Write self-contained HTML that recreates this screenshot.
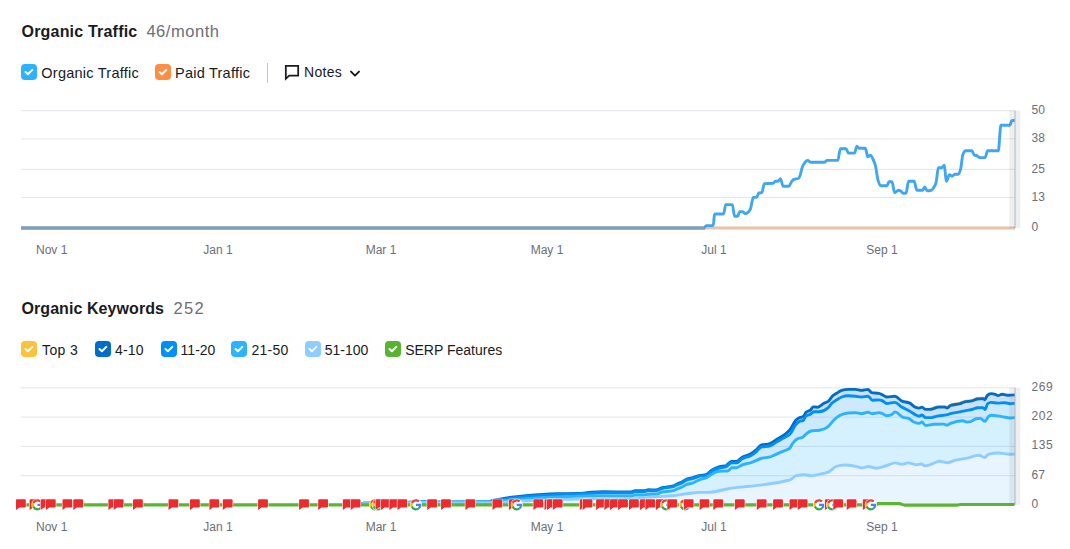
<!DOCTYPE html>
<html><head><meta charset="utf-8"><title>Organic Traffic</title>
<style>
html,body{margin:0;padding:0;background:#fff;}
body{width:1070px;height:549px;position:relative;overflow:hidden;font-family:"Liberation Sans",sans-serif;color:#191b23;}
.t{position:absolute;white-space:nowrap;line-height:1;}
.h{font-size:16px;font-weight:bold;}
.hv{font-size:16px;color:#6c6e79;}
.lg{font-size:14px;}
.ax{font-size:12px;color:#6c6e79;}
.xl{font-size:12px;color:#6c6e79;transform:translateX(-50%);}
.cb{position:absolute;width:16px;height:16px;border-radius:4px;}
.cb svg{position:absolute;left:0;top:0;}
</style></head><body>
<svg width="1070" height="549" viewBox="0 0 1070 549" style="position:absolute;left:0;top:0">
<defs>
<symbol id="g" viewBox="-3 -3 54 54"><circle cx="24" cy="24" r="26.4" fill="#fff"/><path fill="#EA4335" d="M24 9.5c3.54 0 6.71 1.22 9.21 3.6l6.85-6.85C35.9 2.38 30.47 0 24 0 14.62 0 6.51 5.38 2.56 13.22l7.98 6.19C12.43 13.72 17.74 9.5 24 9.5z"/><path fill="#4285F4" d="M46.98 24.55c0-1.57-.15-3.09-.38-4.55H24v9.02h12.94c-.58 2.96-2.26 5.48-4.78 7.18l7.73 6c4.51-4.18 7.09-10.36 7.09-17.65z"/><path fill="#FBBC05" d="M10.53 28.59c-.48-1.45-.76-2.99-.76-4.59s.27-3.14.76-4.59l-7.98-6.19C.92 16.46 0 20.12 0 24c0 3.88.92 7.54 2.56 10.78l7.97-6.19z"/><path fill="#34A853" d="M24 48c6.48 0 11.93-2.13 15.89-5.81l-7.73-6c-2.15 1.45-4.92 2.3-8.16 2.3-6.26 0-11.57-4.22-13.47-9.91l-7.98 6.19C6.51 42.62 14.62 48 24 48z"/></symbol>
<path id="f" d="M0,1 Q0,0 1,0 H8.8 Q9.8,0 9.8,1 V7.4 Q9.8,8.4 8.8,8.4 H3.4 L0,10.9 Z" fill="#ed2b2e" stroke="#fff" stroke-width="1.1" stroke-linejoin="round" paint-order="stroke"/>
</defs>
<rect x="21" y="110.15" width="994" height="1.1" fill="#e6e7ee"/>
<rect x="21" y="138.30" width="994" height="1.1" fill="#e6e7ee"/>
<rect x="21" y="168.80" width="994" height="1.1" fill="#e6e7ee"/>
<rect x="21" y="196.95" width="994" height="1.1" fill="#e6e7ee"/>
<path d="M21,228 H1015" stroke="#ecc1ab" stroke-width="3" fill="none"/>
<path d="M21,228 H705" stroke="#7f9fbd" stroke-width="3.4" fill="none"/>
<path d="M704.6,228 C705.1,226.8 705.7,225.6 706.2,225.6 L713.2,225.6 C713.7,225.6 714.1,214 714.6,214 L723.6,214 C724.3,214 725,204.6 725.7,204.6 L732.4,204.6 C733.1,204.6 733.8,216.3 734.5,216.3 L737.7,216.3 C738.4,216.3 739,211.6 739.7,211.6 L742.4,211.6 C743.4,211.6 744.4,213.6 745.4,213.6 C747.1,213.6 748.7,212.1 750.4,209 C751.3,207.3 752.3,197.9 753.2,197.6 C754.4,197.2 755.6,197.4 756.8,197 C757.5,196.8 758.1,193.2 758.8,193 C759.8,192.7 760.9,192.8 761.9,192.5 C762.7,192.2 763.6,183.6 764.4,183.6 C767.2,183.5 770,183.5 772.8,183.4 C773.7,183.4 774.5,181.3 775.4,181.3 L777.9,181.3 C778.8,181.3 779.6,178.8 780.5,178.8 C781.3,178.8 782.2,186.2 783,186.2 L788.9,186.2 C789.9,186.2 790.9,182.3 791.9,181.1 C792.6,180.3 793.3,179.6 794,179.3 C795.4,178.8 796.9,179 798.3,178.5 C798.9,178.3 799.5,177.1 800.1,175.5 C800.8,173.7 801.4,169.8 802.1,167.8 C803.1,164.6 804.2,163.4 805.2,162.2 C806,161.2 806.9,160.4 807.7,160.4 C808.6,160.4 809.4,162.2 810.3,162.2 L824.6,162.2 C825.4,162.2 826.3,160.4 827.1,160.4 L837.8,160.4 C838.7,160.4 839.5,148.7 840.4,148.7 L846,148.7 C846.8,148.7 847.7,153.1 848.5,153.1 L854.5,153.1 C855.3,153.1 856.1,146.2 856.9,146.2 C857.6,146.2 858.2,148.2 858.9,148.2 L865.3,148.2 C866.1,148.2 867,156.9 867.8,156.9 C868.7,156.9 869.5,155.1 870.4,155.1 C871.4,155.1 872.4,157.9 873.4,160.2 C874.1,161.8 874.8,163.1 875.5,166 C876.3,169.4 877.2,177.1 878,180.1 C879,183.8 880.1,185.7 881.1,185.7 L887,185.7 C887.7,185.7 888.3,181.8 889,181.8 L892,181.8 C892.9,181.8 893.7,192.6 894.6,192.6 C895.9,192.6 897.1,190.3 898.4,190.3 C899.1,190.3 899.8,190.5 900.5,190.8 C901.3,191.2 902.2,193.3 903,193.3 L906,193.3 C906.9,193.3 907.7,181.3 908.6,181.3 L914.2,181.3 C915.1,181.3 915.9,190.3 916.8,190.3 L922.6,190.3 C923.3,190.3 924,186.9 924.7,186.9 C925.5,186.9 926.2,190.8 927,190.8 C928.3,190.8 929.7,190.6 931,190.3 C931.9,190.1 932.7,189.1 933.6,187.7 C934.4,186.4 935.3,185.9 936.1,182.4 C936.9,179.1 937.6,167.8 938.4,167.8 L941.7,167.8 C942.6,167.8 943.4,165.3 944.3,165.3 C945,165.3 945.6,181.3 946.3,181.3 C947.3,181.3 948.4,174.7 949.4,174.7 C950.2,174.7 951.1,176.2 951.9,176.2 C952.9,176.2 954,174.2 955,174.2 L958.3,174.2 C959.2,174.2 960,172 960.9,167.8 C961.6,164.5 962.2,155.8 962.9,154.3 C963.9,152 965,150.8 966,150.8 L971.8,150.8 C972.7,150.8 973.5,154.6 974.4,155.1 C975.4,155.6 976.4,155.4 977.4,155.9 C978.1,156.3 978.8,157.6 979.5,157.6 L985.1,157.6 C985.9,157.6 986.8,150.8 987.6,150.8 L998.3,150.8 C999.2,150.8 1000,125.3 1000.9,125.3 L1009.8,125.3 C1010.5,125.3 1011.1,120.9 1011.8,120.7 C1012.7,120.4 1013.7,120.3 1014.6,120.2" stroke="#40a6ef" stroke-width="2.9" fill="none" stroke-linejoin="round" stroke-linecap="butt"/>
<rect x="1009.3" y="110.6" width="11" height="117.6" fill="#62757f" fill-opacity="0.115"/>
<rect x="1014.2" y="110.6" width="1.7" height="117.6" fill="#62757f" fill-opacity="0.26"/>
<rect x="21" y="387.25" width="994" height="1.1" fill="#e6e7ee"/>
<rect x="21" y="416.55" width="994" height="1.1" fill="#e6e7ee"/>
<rect x="21" y="445.85" width="994" height="1.1" fill="#e6e7ee"/>
<rect x="21" y="475.15" width="994" height="1.1" fill="#e6e7ee"/>
<path d="M356,504.8 C357.3,504.8 358.7,504.7 360,504.6 C361.3,504.5 362.7,503.2 364,503.2 C375.3,503.1 386.7,503.1 398,503 C399.3,503 400.7,502.4 402,502.4 C405.3,502.3 408.7,502.4 412,502.3 C413.3,502.3 414.7,501.7 416,501.7 L432,501.7 C434,501.7 436,502.1 438,502.1 C455,502.1 472,502.1 489,502 C490,502 491,501.1 492,500.7 C494.1,499.9 496.3,499.8 498.4,499.4 C502.9,498.5 507.5,497.8 512,497.2 C516.7,496.6 521.3,496.1 526,495.7 C536.3,494.7 546.7,493.9 557,493.7 C563.7,493.6 570.3,493.6 577,493.5 C581.7,493.4 586.3,492.6 591,492.3 C595.1,492 599.3,491.8 603.4,491.8 C612.6,491.8 621.9,492 631.1,492 C632.5,492 633.8,490.8 635.2,490.8 L643.5,490.8 C645.2,490.8 646.9,489.8 648.6,489.8 C651,489.8 653.4,490 655.8,490 C657.9,490 659.9,488.3 662,487.7 C665.8,486.6 669.5,487.1 673.3,485.9 C674.7,485.5 676,484.4 677.4,483.8 C679.1,483 680.8,482.8 682.5,481.8 C683.5,481.2 684.6,480.3 685.6,479.7 C688,478.4 690.4,478.4 692.8,477.7 C695.2,477 697.6,475.9 700,475.4 C701.9,475 703.9,475.2 705.8,474.7 C707.8,474.2 709.7,471.5 711.7,470.3 C714.1,468.8 716.6,467.7 719,466.9 C721.4,466.1 723.8,466.4 726.2,465.5 C727.9,464.8 729.6,461.5 731.3,461.5 L736.4,461.5 C738.4,461.5 740.3,458.4 742.3,457.2 C745.2,455.5 748.1,455.6 751,453.8 C752.7,452.7 754.4,451.3 756.1,449.9 C757.8,448.4 759.5,445.7 761.2,445.1 C764.1,444.1 767.1,444.6 770,443.6 C772.4,442.8 774.9,440.5 777.3,439 C779.7,437.5 782.1,436.4 784.5,434.6 C786.3,433.2 788.2,432 790,429.7 C791.9,427.3 793.9,422.4 795.8,420.3 C797.3,418.7 798.7,418 800.2,417.4 C801.2,417 802.1,417.1 803.1,416.6 C804.1,416.1 805,413.3 806,412.3 C807.5,410.8 808.9,411.4 810.4,410.1 C811.4,409.3 812.3,406.9 813.3,406.9 C814.8,406.9 816.2,407.2 817.7,407.2 C819.6,407.2 821.6,404.6 823.5,403.5 C825.2,402.5 826.9,402.6 828.6,401 C829.8,399.8 831.1,397.4 832.3,396.2 C833.7,394.8 835.2,394.2 836.6,393.3 C838.3,392.2 840,390.9 841.7,390.4 C843.9,389.7 846.1,389.4 848.3,389.4 L855.6,389.4 C857.5,389.4 859.5,390.4 861.4,390.4 C863.6,390.4 865.8,389.4 868,389.4 C869.2,389.4 870.4,392.4 871.6,392.6 C874,393.1 876.5,392.8 878.9,393.3 C879.9,393.5 881,394.1 882,394.6 C883.6,395.3 885.2,397 886.8,397 C889.5,397 892.2,396.3 894.9,396.3 C897.2,396.3 899.4,399.9 901.7,401 C904.4,402.3 907.1,401.7 909.8,403.1 C911.6,404 913.4,406.3 915.2,407.1 C916.6,407.7 917.9,408.1 919.3,408.1 C920.2,408.1 921.1,407.1 922,407.1 C923.1,407.1 924.3,409.4 925.4,409.4 C927.4,409.4 929.5,409.3 931.5,409.2 C933.8,409.1 936,407.1 938.3,407.1 L945,407.1 C945.7,407.1 946.4,408.1 947.1,408.1 C948.2,408.1 949.4,405.9 950.5,405.5 C953.7,404.3 956.8,404.8 960,403.7 C961.3,403.2 962.7,402.5 964,402.1 C966.7,401.2 969.5,401.5 972.2,400.8 C974,400.3 975.8,399.3 977.6,399 C979.4,398.7 981.2,398.6 983,398.6 C983.7,398.6 984.3,399.7 985,399.7 C985.7,399.7 986.4,396.3 987.1,395.6 C988.4,394.3 989.8,393.6 991.1,393.6 C992.5,393.6 993.8,393.8 995.2,394.3 C996.1,394.6 997,395.6 997.9,395.6 C999.3,395.6 1000.6,394.3 1002,394.3 C1004.2,394.3 1006.5,395.3 1008.7,395.3 C1010.7,395.3 1012.6,395.1 1014.6,394.9 L1014.6,403.1 C1013.1,403.4 1011.6,403.7 1010.1,403.7 C1008.3,403.7 1006.5,402.7 1004.7,402.7 C1002.4,402.7 1000.2,403.1 997.9,403.1 C995.6,403.1 993.4,402.4 991.1,402.4 C990,402.4 988.8,402.8 987.7,403.7 C986.8,404.4 985.9,409.5 985,409.5 C984.3,409.5 983.7,407.6 983,407.6 C981.2,407.6 979.4,407.7 977.6,407.8 C975.8,407.9 974,409.1 972.2,409.5 C970.4,409.9 968.5,410.1 966.7,410.4 C964.5,410.8 962.2,411.4 960,411.9 C956.8,412.6 953.7,412.9 950.5,413.7 C949.1,414.1 947.8,414.6 946.4,414.9 C943.7,415.5 941,415.4 938.3,415.9 C936,416.3 933.8,417.6 931.5,417.6 L925.4,417.6 C924.3,417.6 923.1,414.9 922,414.9 C921.1,414.9 920.2,416.2 919.3,416.2 C917.9,416.2 916.6,415.3 915.2,414.6 C913.4,413.7 911.6,412.2 909.8,411.2 C907.1,409.6 904.4,408.7 901.7,407.1 C899.4,405.7 897.2,402.4 894.9,402.4 C892.2,402.4 889.5,403.5 886.8,403.5 C885.2,403.5 883.6,401.2 882,400.6 C881,400.2 879.9,399.9 878.9,399.9 C876.7,399.9 874.6,400.2 872.4,400.2 C870.9,400.2 869.5,396.2 868,396.2 C865.8,396.2 863.6,397 861.4,397 C859.5,397 857.5,396.4 855.6,396.2 C853.2,396 850.7,395.8 848.3,395.8 C846.1,395.8 843.9,396.2 841.7,397 C840,397.6 838.3,398.8 836.6,399.9 C835.2,400.8 833.7,401.5 832.3,402.8 C830.8,404.1 829.4,406.6 827.9,407.9 C825,410.5 822.1,411.8 819.2,411.8 L814,411.8 C812.8,411.8 811.6,413.6 810.4,414.2 C808.9,415 807.5,414.8 806,415.9 C805,416.6 804.1,420.3 803.1,420.6 C802.1,420.9 801.2,420.7 800.2,421 C798.7,421.4 797.3,422.9 795.8,424.6 C793.9,426.9 791.9,432 790,434.1 C788.2,436.1 786.3,436.3 784.5,437.4 C782.1,438.8 779.7,440.1 777.3,441.5 C774.9,442.9 772.4,445.1 770,445.8 C767.1,446.7 764.1,446.2 761.2,447.1 C759.5,447.6 757.8,450.3 756.1,451.8 C754.4,453.2 752.7,454.5 751,455.5 C748.1,457.3 745.2,457 742.3,458.7 C740.3,459.8 738.4,462.9 736.4,462.9 C734.7,462.9 733,462.8 731.3,462.8 C729.6,462.8 727.9,466.1 726.2,466.7 C723.8,467.6 721.4,467.3 719,468 C716.6,468.8 714.1,469.8 711.7,471.3 C709.7,472.5 707.8,475.2 705.8,475.6 C703.9,476 701.9,475.8 700,476.2 C697.6,476.7 695.2,477.8 692.8,478.5 C690.4,479.2 688,479.2 685.6,480.5 C684.6,481.1 683.5,482 682.5,482.6 C680.8,483.6 679.1,483.8 677.4,484.6 C676,485.2 674.7,486.3 673.3,486.7 C669.5,487.9 665.8,487.4 662,488.5 C659.9,489.1 657.9,490.8 655.8,490.8 C653.4,490.8 651,490.6 648.6,490.6 C646.9,490.6 645.2,491.6 643.5,491.6 L635.2,491.6 C633.8,491.6 632.5,492.8 631.1,492.8 C621.9,492.8 612.6,492.6 603.4,492.6 C599.3,492.6 595.1,493 591,493.2 C586.3,493.4 581.7,493.7 577,493.9 C570.3,494.2 563.7,494.3 557,494.6 C546.7,495.1 536.3,495.7 526,496.7 C521.3,497.1 516.7,497.6 512,498.2 C507.5,498.8 502.9,499.5 498.4,500.2 C496.3,500.5 494.1,500.7 492,501.2 C491,501.4 490,502 489,502 C472,502.1 455,502.1 438,502.1 C436,502.1 434,501.7 432,501.7 L416,501.7 C414.7,501.7 413.3,502.3 412,502.3 C408.7,502.4 405.3,502.3 402,502.4 C400.7,502.4 399.3,503 398,503 C386.7,503.1 375.3,503.1 364,503.2 C362.7,503.2 361.3,504.5 360,504.6 C358.7,504.7 357.3,504.8 356,504.8 Z" fill="#006dca" fill-opacity="0.2"/>
<path d="M356,504.8 C357.3,504.8 358.7,504.7 360,504.6 C361.3,504.5 362.7,503.2 364,503.2 C375.3,503.1 386.7,503.1 398,503 C399.3,503 400.7,502.4 402,502.4 C405.3,502.3 408.7,502.4 412,502.3 C413.3,502.3 414.7,501.7 416,501.7 L432,501.7 C434,501.7 436,502.1 438,502.1 C455,502.1 472,502.1 489,502 C490,502 491,501.4 492,501.2 C494.1,500.7 496.3,500.5 498.4,500.2 C502.9,499.5 507.5,498.8 512,498.2 C516.7,497.6 521.3,497.1 526,496.7 C536.3,495.7 546.7,495.1 557,494.6 C563.7,494.3 570.3,494.2 577,493.9 C581.7,493.7 586.3,493.4 591,493.2 C595.1,493 599.3,492.6 603.4,492.6 C612.6,492.6 621.9,492.8 631.1,492.8 C632.5,492.8 633.8,491.6 635.2,491.6 L643.5,491.6 C645.2,491.6 646.9,490.6 648.6,490.6 C651,490.6 653.4,490.8 655.8,490.8 C657.9,490.8 659.9,489.1 662,488.5 C665.8,487.4 669.5,487.9 673.3,486.7 C674.7,486.3 676,485.2 677.4,484.6 C679.1,483.8 680.8,483.6 682.5,482.6 C683.5,482 684.6,481.1 685.6,480.5 C688,479.2 690.4,479.2 692.8,478.5 C695.2,477.8 697.6,476.7 700,476.2 C701.9,475.8 703.9,476 705.8,475.6 C707.8,475.2 709.7,472.5 711.7,471.3 C714.1,469.8 716.6,468.8 719,468 C721.4,467.3 723.8,467.6 726.2,466.7 C727.9,466.1 729.6,462.8 731.3,462.8 C733,462.8 734.7,462.9 736.4,462.9 C738.4,462.9 740.3,459.8 742.3,458.7 C745.2,457 748.1,457.3 751,455.5 C752.7,454.5 754.4,453.2 756.1,451.8 C757.8,450.3 759.5,447.6 761.2,447.1 C764.1,446.2 767.1,446.7 770,445.8 C772.4,445.1 774.9,442.9 777.3,441.5 C779.7,440.1 782.1,438.8 784.5,437.4 C786.3,436.3 788.2,436.1 790,434.1 C791.9,432 793.9,426.9 795.8,424.6 C797.3,422.9 798.7,421.4 800.2,421 C801.2,420.7 802.1,420.9 803.1,420.6 C804.1,420.3 805,416.6 806,415.9 C807.5,414.8 808.9,415 810.4,414.2 C811.6,413.6 812.8,411.8 814,411.8 L819.2,411.8 C822.1,411.8 825,410.5 827.9,407.9 C829.4,406.6 830.8,404.1 832.3,402.8 C833.7,401.5 835.2,400.8 836.6,399.9 C838.3,398.8 840,397.6 841.7,397 C843.9,396.2 846.1,395.8 848.3,395.8 C850.7,395.8 853.2,396 855.6,396.2 C857.5,396.4 859.5,397 861.4,397 C863.6,397 865.8,396.2 868,396.2 C869.5,396.2 870.9,400.2 872.4,400.2 C874.6,400.2 876.7,399.9 878.9,399.9 C879.9,399.9 881,400.2 882,400.6 C883.6,401.2 885.2,403.5 886.8,403.5 C889.5,403.5 892.2,402.4 894.9,402.4 C897.2,402.4 899.4,405.7 901.7,407.1 C904.4,408.7 907.1,409.6 909.8,411.2 C911.6,412.2 913.4,413.7 915.2,414.6 C916.6,415.3 917.9,416.2 919.3,416.2 C920.2,416.2 921.1,414.9 922,414.9 C923.1,414.9 924.3,417.6 925.4,417.6 L931.5,417.6 C933.8,417.6 936,416.3 938.3,415.9 C941,415.4 943.7,415.5 946.4,414.9 C947.8,414.6 949.1,414.1 950.5,413.7 C953.7,412.9 956.8,412.6 960,411.9 C962.2,411.4 964.5,410.8 966.7,410.4 C968.5,410.1 970.4,409.9 972.2,409.5 C974,409.1 975.8,407.9 977.6,407.8 C979.4,407.7 981.2,407.6 983,407.6 C983.7,407.6 984.3,409.5 985,409.5 C985.9,409.5 986.8,404.4 987.7,403.7 C988.8,402.8 990,402.4 991.1,402.4 C993.4,402.4 995.6,403.1 997.9,403.1 C1000.2,403.1 1002.4,402.7 1004.7,402.7 C1006.5,402.7 1008.3,403.7 1010.1,403.7 C1011.6,403.7 1013.1,403.4 1014.6,403.1 L1014.6,417.6 C1013.1,417.8 1011.6,418 1010.1,418 C1007.4,418 1004.7,417 1002,416.6 C998.4,416.1 994.7,415.3 991.1,415.3 C990.2,415.3 989.3,415.8 988.4,416.6 C987.3,417.6 986.1,421.4 985,421.4 C983.4,421.4 981.9,418.4 980.3,418.4 C978.9,418.4 977.6,418.5 976.2,418.7 C974.4,419 972.6,421.2 970.8,421.6 C969.4,421.9 968.1,422 966.7,422 C965.4,422 964,420.7 962.7,420.7 C958.6,420.7 954.6,421.6 950.5,423.4 C949.4,423.9 948.2,425.2 947.1,425.2 C946,425.2 944.8,424.1 943.7,424.1 C940.5,424.1 937.4,424.2 934.2,424.3 C931.3,424.4 928.3,425.4 925.4,425.4 C924.3,425.4 923.1,422 922,422 C921.1,422 920.2,423.4 919.3,423.4 C917.5,423.4 915.7,422.8 913.9,422 C912.1,421.2 910.3,419.1 908.5,418.4 C906.7,417.7 904.8,418 903,417.3 C900.3,416.3 897.6,411.9 894.9,411.9 C894,411.9 893.1,413.8 892.2,414.3 C890.4,415.2 888.6,415.7 886.8,415.7 C885.2,415.7 883.6,413.9 882,413.4 C881,413.1 879.9,412.7 878.9,412.7 C876.7,412.7 874.6,413.7 872.4,413.7 C870.9,413.7 869.5,412.3 868,412.3 C865.8,412.3 863.6,413.7 861.4,413.7 C859.5,413.7 857.5,412.7 855.6,412.7 C853.2,412.7 850.7,412.8 848.3,413 C845.4,413.2 842.5,413.9 839.6,415.6 C837.6,416.8 835.7,418.4 833.7,420.3 C831.8,422.2 829.8,425.3 827.9,426.8 C825,429.1 822.1,429.7 819.2,430.2 C816.8,430.6 814.3,430.4 811.9,430.8 C809.9,431.1 808,432.4 806,434.1 C805,434.9 804.1,436.3 803.1,437 C800.9,438.5 798.8,437.7 796.6,439.2 C795,440.3 793.4,442.2 791.8,444.8 C791.2,445.8 790.6,447.3 790,448 C789.2,449 788.3,449 787.5,449.5 C784.6,451.1 781.6,451.8 778.7,453.1 C776.3,454.2 773.8,455.6 771.4,456.5 C768,457.7 764.6,457.5 761.2,458.5 C757.8,459.5 754.4,461.5 751,462.6 C748.1,463.5 745.2,463.7 742.3,464.8 C740.3,465.6 738.4,467.7 736.4,467.7 L732.1,467.7 C730.6,467.7 729.2,470.9 727.7,471 C724.8,471.2 721.9,471.1 719,471.3 C716.6,471.5 714.1,472.9 711.7,474.2 C709.7,475.2 707.8,477 705.8,477.9 C703.9,478.8 701.9,478.9 700,479.6 C697.6,480.5 695.2,482.1 692.8,483 C690.4,483.9 688,483.8 685.6,485 C684.6,485.5 683.5,486.3 682.5,486.8 C680.8,487.7 679.1,488.1 677.4,488.8 C676,489.4 674.7,490.2 673.3,490.6 C669.5,491.7 665.8,491.2 662,492.2 C659.9,492.7 657.9,494.2 655.8,494.2 L648.6,494.2 C646.9,494.2 645.2,495 643.5,495 L635.2,495 C633.8,495 632.5,496 631.1,496 C621.9,496 612.6,495.8 603.4,495.8 C599.3,495.8 595.1,495.8 591,495.9 C586.3,496 581.7,496.1 577,496.2 C570.3,496.4 563.7,496.7 557,497 C546.7,497.5 536.3,498.1 526,498.8 C521.3,499.1 516.7,499.5 512,499.9 C507.5,500.3 502.9,500.8 498.4,501.2 C496.3,501.4 494.1,501.5 492,501.7 C491,501.8 490,502 489,502 C472,502.1 455,502.1 438,502.1 C436,502.1 434,501.7 432,501.7 L416,501.7 C414.7,501.7 413.3,502.3 412,502.3 C408.7,502.4 405.3,502.3 402,502.4 C400.7,502.4 399.3,503 398,503 C386.7,503.1 375.3,503.1 364,503.2 C362.7,503.2 361.3,504.5 360,504.6 C358.7,504.7 357.3,504.8 356,504.8 Z" fill="#008ff8" fill-opacity="0.2"/>
<path d="M356,504.8 C357.3,504.8 358.7,504.7 360,504.6 C361.3,504.5 362.7,503.2 364,503.2 C375.3,503.1 386.7,503.1 398,503 C399.3,503 400.7,502.4 402,502.4 C405.3,502.3 408.7,502.4 412,502.3 C413.3,502.3 414.7,501.7 416,501.7 L432,501.7 C434,501.7 436,502.1 438,502.1 C455,502.1 472,502.1 489,502 C490,502 491,501.8 492,501.7 C494.1,501.5 496.3,501.4 498.4,501.2 C502.9,500.8 507.5,500.3 512,499.9 C516.7,499.5 521.3,499.1 526,498.8 C536.3,498.1 546.7,497.5 557,497 C563.7,496.7 570.3,496.4 577,496.2 C581.7,496.1 586.3,496 591,495.9 C595.1,495.8 599.3,495.8 603.4,495.8 C612.6,495.8 621.9,496 631.1,496 C632.5,496 633.8,495 635.2,495 L643.5,495 C645.2,495 646.9,494.2 648.6,494.2 L655.8,494.2 C657.9,494.2 659.9,492.7 662,492.2 C665.8,491.2 669.5,491.7 673.3,490.6 C674.7,490.2 676,489.4 677.4,488.8 C679.1,488.1 680.8,487.7 682.5,486.8 C683.5,486.3 684.6,485.5 685.6,485 C688,483.8 690.4,483.9 692.8,483 C695.2,482.1 697.6,480.5 700,479.6 C701.9,478.9 703.9,478.8 705.8,477.9 C707.8,477 709.7,475.2 711.7,474.2 C714.1,472.9 716.6,471.5 719,471.3 C721.9,471.1 724.8,471.2 727.7,471 C729.2,470.9 730.6,467.7 732.1,467.7 L736.4,467.7 C738.4,467.7 740.3,465.6 742.3,464.8 C745.2,463.7 748.1,463.5 751,462.6 C754.4,461.5 757.8,459.5 761.2,458.5 C764.6,457.5 768,457.7 771.4,456.5 C773.8,455.6 776.3,454.2 778.7,453.1 C781.6,451.8 784.6,451.1 787.5,449.5 C788.3,449 789.2,449 790,448 C790.6,447.3 791.2,445.8 791.8,444.8 C793.4,442.2 795,440.3 796.6,439.2 C798.8,437.7 800.9,438.5 803.1,437 C804.1,436.3 805,434.9 806,434.1 C808,432.4 809.9,431.1 811.9,430.8 C814.3,430.4 816.8,430.6 819.2,430.2 C822.1,429.7 825,429.1 827.9,426.8 C829.8,425.3 831.8,422.2 833.7,420.3 C835.7,418.4 837.6,416.8 839.6,415.6 C842.5,413.9 845.4,413.2 848.3,413 C850.7,412.8 853.2,412.7 855.6,412.7 C857.5,412.7 859.5,413.7 861.4,413.7 C863.6,413.7 865.8,412.3 868,412.3 C869.5,412.3 870.9,413.7 872.4,413.7 C874.6,413.7 876.7,412.7 878.9,412.7 C879.9,412.7 881,413.1 882,413.4 C883.6,413.9 885.2,415.7 886.8,415.7 C888.6,415.7 890.4,415.2 892.2,414.3 C893.1,413.8 894,411.9 894.9,411.9 C897.6,411.9 900.3,416.3 903,417.3 C904.8,418 906.7,417.7 908.5,418.4 C910.3,419.1 912.1,421.2 913.9,422 C915.7,422.8 917.5,423.4 919.3,423.4 C920.2,423.4 921.1,422 922,422 C923.1,422 924.3,425.4 925.4,425.4 C928.3,425.4 931.3,424.4 934.2,424.3 C937.4,424.2 940.5,424.1 943.7,424.1 C944.8,424.1 946,425.2 947.1,425.2 C948.2,425.2 949.4,423.9 950.5,423.4 C954.6,421.6 958.6,420.7 962.7,420.7 C964,420.7 965.4,422 966.7,422 C968.1,422 969.4,421.9 970.8,421.6 C972.6,421.2 974.4,419 976.2,418.7 C977.6,418.5 978.9,418.4 980.3,418.4 C981.9,418.4 983.4,421.4 985,421.4 C986.1,421.4 987.3,417.6 988.4,416.6 C989.3,415.8 990.2,415.3 991.1,415.3 C994.7,415.3 998.4,416.1 1002,416.6 C1004.7,417 1007.4,418 1010.1,418 C1011.6,418 1013.1,417.8 1014.6,417.6 L1014.6,454.1 C1012.8,454.2 1011.1,454.3 1009.3,454.3 C1005.7,454.3 1002.1,453 998.5,453 C995.3,453 992,453.4 988.8,454.1 C987.4,454.4 985.9,457.5 984.5,457.5 C982.7,457.5 981,455.2 979.2,455.2 C975.6,455.2 972,457.1 968.4,457.9 C964.1,458.8 959.8,459 955.5,460.1 C952.6,460.8 949.8,462.7 946.9,462.7 C944.4,462.7 941.9,461.2 939.4,461.2 C936.9,461.2 934.4,463.2 931.9,464 C929.7,464.7 927.6,465.9 925.4,465.9 C924,465.9 922.5,464 921.1,464 C919.7,464 918.2,464.8 916.8,464.8 C913.9,464.8 911.1,462.9 908.2,462.9 C906.1,462.9 903.9,464.4 901.8,464.4 C899.6,464.4 897.5,462.9 895.3,462.9 C892.4,462.9 889.6,464.7 886.7,465.5 C883.1,466.5 879.6,468.3 876,468.3 C873.5,468.3 871,466.5 868.5,466.5 C866.3,466.5 864.2,468 862,468 C859.5,468 857,466.6 854.5,466.1 C851.3,465.5 848,465 844.8,465 C841.9,465 839.1,465.5 836.2,466.5 C833.7,467.4 831.2,470.6 828.7,471.9 C825.8,473.3 823,473.5 820.1,474.1 C816.9,474.8 813.6,475.8 810.4,475.8 C808.6,475.8 806.8,474.7 805,474.7 C802.1,474.7 799.3,475 796.4,475.6 C794.3,476 792.1,479.1 790,479.9 C789.2,480.2 788.3,480.3 787.5,480.5 C781.7,481.9 775.8,482.9 770,483.8 C763.2,484.9 756.4,485.5 749.6,486.3 C742.8,487.1 736,487.5 729.2,488.5 C722.4,489.5 715.5,492.4 708.7,492.4 L700,492.4 C695.5,492.4 691.1,493.3 686.6,493.8 C681.8,494.4 677,495.2 672.2,495.7 C666.7,496.3 661.3,496.3 655.8,496.8 C653.1,497 650.3,497.3 647.6,497.6 C645.1,497.9 642.5,498.2 640,498.4 C637,498.7 634.1,499 631.1,499 L603.4,499 C599.3,499 595.1,498.8 591,498.8 C586.3,498.8 581.7,498.9 577,499 C570.3,499.1 563.7,499.4 557,499.6 C546.7,499.9 536.3,500.3 526,500.8 C521.3,501 516.7,501.3 512,501.6 C507.5,501.9 502.9,502.2 498.4,502.4 C496.3,502.5 494.1,502.5 492,502.6 C491,502.7 490,502.8 489,502.8 C472,502.9 455,502.9 438,502.9 C436,502.9 434,502.5 432,502.5 L416,502.5 C414.7,502.5 413.3,503 412,503 C408.7,503.1 405.3,503 402,503.1 C400.7,503.1 399.3,503.6 398,503.6 C386.7,503.7 375.3,503.7 364,503.8 C362.7,503.8 361.3,504.6 360,504.7 C358.7,504.8 357.3,504.8 356,504.8 Z" fill="#2bb3ff" fill-opacity="0.2"/>
<path d="M356,504.8 C357.3,504.8 358.7,504.8 360,504.7 C361.3,504.6 362.7,503.8 364,503.8 C375.3,503.7 386.7,503.7 398,503.6 C399.3,503.6 400.7,503.1 402,503.1 C405.3,503 408.7,503.1 412,503 C413.3,503 414.7,502.5 416,502.5 L432,502.5 C434,502.5 436,502.9 438,502.9 C455,502.9 472,502.9 489,502.8 C490,502.8 491,502.7 492,502.6 C494.1,502.5 496.3,502.5 498.4,502.4 C502.9,502.2 507.5,501.9 512,501.6 C516.7,501.3 521.3,501 526,500.8 C536.3,500.3 546.7,499.9 557,499.6 C563.7,499.4 570.3,499.1 577,499 C581.7,498.9 586.3,498.8 591,498.8 C595.1,498.8 599.3,499 603.4,499 L631.1,499 C634.1,499 637,498.7 640,498.4 C642.5,498.2 645.1,497.9 647.6,497.6 C650.3,497.3 653.1,497 655.8,496.8 C661.3,496.3 666.7,496.3 672.2,495.7 C677,495.2 681.8,494.4 686.6,493.8 C691.1,493.3 695.5,492.4 700,492.4 L708.7,492.4 C715.5,492.4 722.4,489.5 729.2,488.5 C736,487.5 742.8,487.1 749.6,486.3 C756.4,485.5 763.2,484.9 770,483.8 C775.8,482.9 781.7,481.9 787.5,480.5 C788.3,480.3 789.2,480.2 790,479.9 C792.1,479.1 794.3,476 796.4,475.6 C799.3,475 802.1,474.7 805,474.7 C806.8,474.7 808.6,475.8 810.4,475.8 C813.6,475.8 816.9,474.8 820.1,474.1 C823,473.5 825.8,473.3 828.7,471.9 C831.2,470.6 833.7,467.4 836.2,466.5 C839.1,465.5 841.9,465 844.8,465 C848,465 851.3,465.5 854.5,466.1 C857,466.6 859.5,468 862,468 C864.2,468 866.3,466.5 868.5,466.5 C871,466.5 873.5,468.3 876,468.3 C879.6,468.3 883.1,466.5 886.7,465.5 C889.6,464.7 892.4,462.9 895.3,462.9 C897.5,462.9 899.6,464.4 901.8,464.4 C903.9,464.4 906.1,462.9 908.2,462.9 C911.1,462.9 913.9,464.8 916.8,464.8 C918.2,464.8 919.7,464 921.1,464 C922.5,464 924,465.9 925.4,465.9 C927.6,465.9 929.7,464.7 931.9,464 C934.4,463.2 936.9,461.2 939.4,461.2 C941.9,461.2 944.4,462.7 946.9,462.7 C949.8,462.7 952.6,460.8 955.5,460.1 C959.8,459 964.1,458.8 968.4,457.9 C972,457.1 975.6,455.2 979.2,455.2 C981,455.2 982.7,457.5 984.5,457.5 C985.9,457.5 987.4,454.4 988.8,454.1 C992,453.4 995.3,453 998.5,453 C1002.1,453 1005.7,454.3 1009.3,454.3 C1011.1,454.3 1012.8,454.2 1014.6,454.1 L1014.6,504.8 L356,504.8 Z" fill="#8ecdff" fill-opacity="0.2"/>
<path d="M931.5,408.7 C933.8,407.6 936,406.6 938.3,406.6 L945,406.6 C945.7,406.6 946.4,407.6 947.1,407.6 C948.2,407.6 949.4,405.4 950.5,405 C953.7,403.8 956.8,404.3 960,403.2 C961.3,402.7 962.7,402 964,401.6 C966.7,400.7 969.5,401 972.2,400.3 C974,399.8 975.8,398.8 977.6,398.5 C979.4,398.2 981.2,398.1 983,398.1 C983.7,398.1 984.3,398.6 985,399.2" stroke="#fdc23c" stroke-width="2.9" fill="none" stroke-linejoin="round"/>
<path d="M356,504.8 C357.3,504.8 358.7,504.7 360,504.6 C361.3,504.5 362.7,503.2 364,503.2 C375.3,503.1 386.7,503.1 398,503 C399.3,503 400.7,502.4 402,502.4 C405.3,502.3 408.7,502.4 412,502.3 C413.3,502.3 414.7,501.7 416,501.7 L432,501.7 C434,501.7 436,502.1 438,502.1 C455,502.1 472,502.1 489,502 C490,502 491,501.1 492,500.7 C494.1,499.9 496.3,499.8 498.4,499.4 C502.9,498.5 507.5,497.8 512,497.2 C516.7,496.6 521.3,496.1 526,495.7 C536.3,494.7 546.7,493.9 557,493.7 C563.7,493.6 570.3,493.6 577,493.5 C581.7,493.4 586.3,492.6 591,492.3 C595.1,492 599.3,491.8 603.4,491.8 C612.6,491.8 621.9,492 631.1,492 C632.5,492 633.8,490.8 635.2,490.8 L643.5,490.8 C645.2,490.8 646.9,489.8 648.6,489.8 C651,489.8 653.4,490 655.8,490 C657.9,490 659.9,488.3 662,487.7 C665.8,486.6 669.5,487.1 673.3,485.9 C674.7,485.5 676,484.4 677.4,483.8 C679.1,483 680.8,482.8 682.5,481.8 C683.5,481.2 684.6,480.3 685.6,479.7 C688,478.4 690.4,478.4 692.8,477.7 C695.2,477 697.6,475.9 700,475.4 C701.9,475 703.9,475.2 705.8,474.7 C707.8,474.2 709.7,471.5 711.7,470.3 C714.1,468.8 716.6,467.7 719,466.9 C721.4,466.1 723.8,466.4 726.2,465.5 C727.9,464.8 729.6,461.5 731.3,461.5 L736.4,461.5 C738.4,461.5 740.3,458.4 742.3,457.2 C745.2,455.5 748.1,455.6 751,453.8 C752.7,452.7 754.4,451.3 756.1,449.9 C757.8,448.4 759.5,445.7 761.2,445.1 C764.1,444.1 767.1,444.6 770,443.6 C772.4,442.8 774.9,440.5 777.3,439 C779.7,437.5 782.1,436.4 784.5,434.6 C786.3,433.2 788.2,432 790,429.7 C791.9,427.3 793.9,422.4 795.8,420.3 C797.3,418.7 798.7,418 800.2,417.4 C801.2,417 802.1,417.1 803.1,416.6 C804.1,416.1 805,413.3 806,412.3 C807.5,410.8 808.9,411.4 810.4,410.1 C811.4,409.3 812.3,406.9 813.3,406.9 C814.8,406.9 816.2,407.2 817.7,407.2 C819.6,407.2 821.6,404.6 823.5,403.5 C825.2,402.5 826.9,402.6 828.6,401 C829.8,399.8 831.1,397.4 832.3,396.2 C833.7,394.8 835.2,394.2 836.6,393.3 C838.3,392.2 840,390.9 841.7,390.4 C843.9,389.7 846.1,389.4 848.3,389.4 L855.6,389.4 C857.5,389.4 859.5,390.4 861.4,390.4 C863.6,390.4 865.8,389.4 868,389.4 C869.2,389.4 870.4,392.4 871.6,392.6 C874,393.1 876.5,392.8 878.9,393.3 C879.9,393.5 881,394.1 882,394.6 C883.6,395.3 885.2,397 886.8,397 C889.5,397 892.2,396.3 894.9,396.3 C897.2,396.3 899.4,399.9 901.7,401 C904.4,402.3 907.1,401.7 909.8,403.1 C911.6,404 913.4,406.3 915.2,407.1 C916.6,407.7 917.9,408.1 919.3,408.1 C920.2,408.1 921.1,407.1 922,407.1 C923.1,407.1 924.3,409.4 925.4,409.4 C927.4,409.4 929.5,409.3 931.5,409.2 C933.8,409.1 936,407.1 938.3,407.1 L945,407.1 C945.7,407.1 946.4,408.1 947.1,408.1 C948.2,408.1 949.4,405.9 950.5,405.5 C953.7,404.3 956.8,404.8 960,403.7 C961.3,403.2 962.7,402.5 964,402.1 C966.7,401.2 969.5,401.5 972.2,400.8 C974,400.3 975.8,399.3 977.6,399 C979.4,398.7 981.2,398.6 983,398.6 C983.7,398.6 984.3,399.7 985,399.7 C985.7,399.7 986.4,396.3 987.1,395.6 C988.4,394.3 989.8,393.6 991.1,393.6 C992.5,393.6 993.8,393.8 995.2,394.3 C996.1,394.6 997,395.6 997.9,395.6 C999.3,395.6 1000.6,394.3 1002,394.3 C1004.2,394.3 1006.5,395.3 1008.7,395.3 C1010.7,395.3 1012.6,395.1 1014.6,394.9" stroke="#006dca" stroke-width="2.9" fill="none" stroke-linejoin="round"/>
<path d="M356,504.8 C357.3,504.8 358.7,504.7 360,504.6 C361.3,504.5 362.7,503.2 364,503.2 C375.3,503.1 386.7,503.1 398,503 C399.3,503 400.7,502.4 402,502.4 C405.3,502.3 408.7,502.4 412,502.3 C413.3,502.3 414.7,501.7 416,501.7 L432,501.7 C434,501.7 436,502.1 438,502.1 C455,502.1 472,502.1 489,502 C490,502 491,501.4 492,501.2 C494.1,500.7 496.3,500.5 498.4,500.2 C502.9,499.5 507.5,498.8 512,498.2 C516.7,497.6 521.3,497.1 526,496.7 C536.3,495.7 546.7,495.1 557,494.6 C563.7,494.3 570.3,494.2 577,493.9 C581.7,493.7 586.3,493.4 591,493.2 C595.1,493 599.3,492.6 603.4,492.6 C612.6,492.6 621.9,492.8 631.1,492.8 C632.5,492.8 633.8,491.6 635.2,491.6 L643.5,491.6 C645.2,491.6 646.9,490.6 648.6,490.6 C651,490.6 653.4,490.8 655.8,490.8 C657.9,490.8 659.9,489.1 662,488.5 C665.8,487.4 669.5,487.9 673.3,486.7 C674.7,486.3 676,485.2 677.4,484.6 C679.1,483.8 680.8,483.6 682.5,482.6 C683.5,482 684.6,481.1 685.6,480.5 C688,479.2 690.4,479.2 692.8,478.5 C695.2,477.8 697.6,476.7 700,476.2 C701.9,475.8 703.9,476 705.8,475.6 C707.8,475.2 709.7,472.5 711.7,471.3 C714.1,469.8 716.6,468.8 719,468 C721.4,467.3 723.8,467.6 726.2,466.7 C727.9,466.1 729.6,462.8 731.3,462.8 C733,462.8 734.7,462.9 736.4,462.9 C738.4,462.9 740.3,459.8 742.3,458.7 C745.2,457 748.1,457.3 751,455.5 C752.7,454.5 754.4,453.2 756.1,451.8 C757.8,450.3 759.5,447.6 761.2,447.1 C764.1,446.2 767.1,446.7 770,445.8 C772.4,445.1 774.9,442.9 777.3,441.5 C779.7,440.1 782.1,438.8 784.5,437.4 C786.3,436.3 788.2,436.1 790,434.1 C791.9,432 793.9,426.9 795.8,424.6 C797.3,422.9 798.7,421.4 800.2,421 C801.2,420.7 802.1,420.9 803.1,420.6 C804.1,420.3 805,416.6 806,415.9 C807.5,414.8 808.9,415 810.4,414.2 C811.6,413.6 812.8,411.8 814,411.8 L819.2,411.8 C822.1,411.8 825,410.5 827.9,407.9 C829.4,406.6 830.8,404.1 832.3,402.8 C833.7,401.5 835.2,400.8 836.6,399.9 C838.3,398.8 840,397.6 841.7,397 C843.9,396.2 846.1,395.8 848.3,395.8 C850.7,395.8 853.2,396 855.6,396.2 C857.5,396.4 859.5,397 861.4,397 C863.6,397 865.8,396.2 868,396.2 C869.5,396.2 870.9,400.2 872.4,400.2 C874.6,400.2 876.7,399.9 878.9,399.9 C879.9,399.9 881,400.2 882,400.6 C883.6,401.2 885.2,403.5 886.8,403.5 C889.5,403.5 892.2,402.4 894.9,402.4 C897.2,402.4 899.4,405.7 901.7,407.1 C904.4,408.7 907.1,409.6 909.8,411.2 C911.6,412.2 913.4,413.7 915.2,414.6 C916.6,415.3 917.9,416.2 919.3,416.2 C920.2,416.2 921.1,414.9 922,414.9 C923.1,414.9 924.3,417.6 925.4,417.6 L931.5,417.6 C933.8,417.6 936,416.3 938.3,415.9 C941,415.4 943.7,415.5 946.4,414.9 C947.8,414.6 949.1,414.1 950.5,413.7 C953.7,412.9 956.8,412.6 960,411.9 C962.2,411.4 964.5,410.8 966.7,410.4 C968.5,410.1 970.4,409.9 972.2,409.5 C974,409.1 975.8,407.9 977.6,407.8 C979.4,407.7 981.2,407.6 983,407.6 C983.7,407.6 984.3,409.5 985,409.5 C985.9,409.5 986.8,404.4 987.7,403.7 C988.8,402.8 990,402.4 991.1,402.4 C993.4,402.4 995.6,403.1 997.9,403.1 C1000.2,403.1 1002.4,402.7 1004.7,402.7 C1006.5,402.7 1008.3,403.7 1010.1,403.7 C1011.6,403.7 1013.1,403.4 1014.6,403.1" stroke="#008ff8" stroke-width="2.9" fill="none" stroke-linejoin="round"/>
<path d="M356,504.8 C357.3,504.8 358.7,504.7 360,504.6 C361.3,504.5 362.7,503.2 364,503.2 C375.3,503.1 386.7,503.1 398,503 C399.3,503 400.7,502.4 402,502.4 C405.3,502.3 408.7,502.4 412,502.3 C413.3,502.3 414.7,501.7 416,501.7 L432,501.7 C434,501.7 436,502.1 438,502.1 C455,502.1 472,502.1 489,502 C490,502 491,501.8 492,501.7 C494.1,501.5 496.3,501.4 498.4,501.2 C502.9,500.8 507.5,500.3 512,499.9 C516.7,499.5 521.3,499.1 526,498.8 C536.3,498.1 546.7,497.5 557,497 C563.7,496.7 570.3,496.4 577,496.2 C581.7,496.1 586.3,496 591,495.9 C595.1,495.8 599.3,495.8 603.4,495.8 C612.6,495.8 621.9,496 631.1,496 C632.5,496 633.8,495 635.2,495 L643.5,495 C645.2,495 646.9,494.2 648.6,494.2 L655.8,494.2 C657.9,494.2 659.9,492.7 662,492.2 C665.8,491.2 669.5,491.7 673.3,490.6 C674.7,490.2 676,489.4 677.4,488.8 C679.1,488.1 680.8,487.7 682.5,486.8 C683.5,486.3 684.6,485.5 685.6,485 C688,483.8 690.4,483.9 692.8,483 C695.2,482.1 697.6,480.5 700,479.6 C701.9,478.9 703.9,478.8 705.8,477.9 C707.8,477 709.7,475.2 711.7,474.2 C714.1,472.9 716.6,471.5 719,471.3 C721.9,471.1 724.8,471.2 727.7,471 C729.2,470.9 730.6,467.7 732.1,467.7 L736.4,467.7 C738.4,467.7 740.3,465.6 742.3,464.8 C745.2,463.7 748.1,463.5 751,462.6 C754.4,461.5 757.8,459.5 761.2,458.5 C764.6,457.5 768,457.7 771.4,456.5 C773.8,455.6 776.3,454.2 778.7,453.1 C781.6,451.8 784.6,451.1 787.5,449.5 C788.3,449 789.2,449 790,448 C790.6,447.3 791.2,445.8 791.8,444.8 C793.4,442.2 795,440.3 796.6,439.2 C798.8,437.7 800.9,438.5 803.1,437 C804.1,436.3 805,434.9 806,434.1 C808,432.4 809.9,431.1 811.9,430.8 C814.3,430.4 816.8,430.6 819.2,430.2 C822.1,429.7 825,429.1 827.9,426.8 C829.8,425.3 831.8,422.2 833.7,420.3 C835.7,418.4 837.6,416.8 839.6,415.6 C842.5,413.9 845.4,413.2 848.3,413 C850.7,412.8 853.2,412.7 855.6,412.7 C857.5,412.7 859.5,413.7 861.4,413.7 C863.6,413.7 865.8,412.3 868,412.3 C869.5,412.3 870.9,413.7 872.4,413.7 C874.6,413.7 876.7,412.7 878.9,412.7 C879.9,412.7 881,413.1 882,413.4 C883.6,413.9 885.2,415.7 886.8,415.7 C888.6,415.7 890.4,415.2 892.2,414.3 C893.1,413.8 894,411.9 894.9,411.9 C897.6,411.9 900.3,416.3 903,417.3 C904.8,418 906.7,417.7 908.5,418.4 C910.3,419.1 912.1,421.2 913.9,422 C915.7,422.8 917.5,423.4 919.3,423.4 C920.2,423.4 921.1,422 922,422 C923.1,422 924.3,425.4 925.4,425.4 C928.3,425.4 931.3,424.4 934.2,424.3 C937.4,424.2 940.5,424.1 943.7,424.1 C944.8,424.1 946,425.2 947.1,425.2 C948.2,425.2 949.4,423.9 950.5,423.4 C954.6,421.6 958.6,420.7 962.7,420.7 C964,420.7 965.4,422 966.7,422 C968.1,422 969.4,421.9 970.8,421.6 C972.6,421.2 974.4,419 976.2,418.7 C977.6,418.5 978.9,418.4 980.3,418.4 C981.9,418.4 983.4,421.4 985,421.4 C986.1,421.4 987.3,417.6 988.4,416.6 C989.3,415.8 990.2,415.3 991.1,415.3 C994.7,415.3 998.4,416.1 1002,416.6 C1004.7,417 1007.4,418 1010.1,418 C1011.6,418 1013.1,417.8 1014.6,417.6" stroke="#2bb3ff" stroke-width="2.9" fill="none" stroke-linejoin="round"/>
<path d="M356,504.8 C357.3,504.8 358.7,504.8 360,504.7 C361.3,504.6 362.7,503.8 364,503.8 C375.3,503.7 386.7,503.7 398,503.6 C399.3,503.6 400.7,503.1 402,503.1 C405.3,503 408.7,503.1 412,503 C413.3,503 414.7,502.5 416,502.5 L432,502.5 C434,502.5 436,502.9 438,502.9 C455,502.9 472,502.9 489,502.8 C490,502.8 491,502.7 492,502.6 C494.1,502.5 496.3,502.5 498.4,502.4 C502.9,502.2 507.5,501.9 512,501.6 C516.7,501.3 521.3,501 526,500.8 C536.3,500.3 546.7,499.9 557,499.6 C563.7,499.4 570.3,499.1 577,499 C581.7,498.9 586.3,498.8 591,498.8 C595.1,498.8 599.3,499 603.4,499 L631.1,499 C634.1,499 637,498.7 640,498.4 C642.5,498.2 645.1,497.9 647.6,497.6 C650.3,497.3 653.1,497 655.8,496.8 C661.3,496.3 666.7,496.3 672.2,495.7 C677,495.2 681.8,494.4 686.6,493.8 C691.1,493.3 695.5,492.4 700,492.4 L708.7,492.4 C715.5,492.4 722.4,489.5 729.2,488.5 C736,487.5 742.8,487.1 749.6,486.3 C756.4,485.5 763.2,484.9 770,483.8 C775.8,482.9 781.7,481.9 787.5,480.5 C788.3,480.3 789.2,480.2 790,479.9 C792.1,479.1 794.3,476 796.4,475.6 C799.3,475 802.1,474.7 805,474.7 C806.8,474.7 808.6,475.8 810.4,475.8 C813.6,475.8 816.9,474.8 820.1,474.1 C823,473.5 825.8,473.3 828.7,471.9 C831.2,470.6 833.7,467.4 836.2,466.5 C839.1,465.5 841.9,465 844.8,465 C848,465 851.3,465.5 854.5,466.1 C857,466.6 859.5,468 862,468 C864.2,468 866.3,466.5 868.5,466.5 C871,466.5 873.5,468.3 876,468.3 C879.6,468.3 883.1,466.5 886.7,465.5 C889.6,464.7 892.4,462.9 895.3,462.9 C897.5,462.9 899.6,464.4 901.8,464.4 C903.9,464.4 906.1,462.9 908.2,462.9 C911.1,462.9 913.9,464.8 916.8,464.8 C918.2,464.8 919.7,464 921.1,464 C922.5,464 924,465.9 925.4,465.9 C927.6,465.9 929.7,464.7 931.9,464 C934.4,463.2 936.9,461.2 939.4,461.2 C941.9,461.2 944.4,462.7 946.9,462.7 C949.8,462.7 952.6,460.8 955.5,460.1 C959.8,459 964.1,458.8 968.4,457.9 C972,457.1 975.6,455.2 979.2,455.2 C981,455.2 982.7,457.5 984.5,457.5 C985.9,457.5 987.4,454.4 988.8,454.1 C992,453.4 995.3,453 998.5,453 C1002.1,453 1005.7,454.3 1009.3,454.3 C1011.1,454.3 1012.8,454.2 1014.6,454.1" stroke="#8ecdff" stroke-width="2.9" fill="none" stroke-linejoin="round"/>
<path d="M21,504.8 L876,504.8 C876.7,504.8 877.3,503.7 878,503.7 L899.5,503.7 C901.2,503.7 902.8,505.1 904.5,505.1 L957,505.1 C958.3,505.1 959.7,504.5 961,504.5 L1014.6,504.5" stroke="#5cb531" stroke-width="3.2" fill="none" stroke-linejoin="round"/>
<rect x="1009.3" y="387.6" width="11" height="117.2" fill="#62757f" fill-opacity="0.115"/>
<rect x="1014.2" y="387.6" width="1.7" height="117.2" fill="#62757f" fill-opacity="0.26"/>
<use href="#f" x="16.0" y="499.2"/>
<use href="#f" x="29.6" y="499.2"/>
<use href="#g" x="31.1" y="498.5" width="12.6" height="12.6"/>
<use href="#f" x="40.6" y="499.2"/>
<use href="#f" x="45.9" y="499.2"/>
<use href="#f" x="62.5" y="499.2"/>
<use href="#f" x="73.3" y="499.2"/>
<use href="#f" x="108.4" y="499.2"/>
<use href="#f" x="113.7" y="499.2"/>
<use href="#f" x="133.0" y="499.2"/>
<use href="#f" x="168.5" y="499.2"/>
<use href="#f" x="190.0" y="499.2"/>
<use href="#f" x="209.4" y="499.2"/>
<use href="#f" x="222.8" y="499.2"/>
<use href="#f" x="258.1" y="499.2"/>
<use href="#f" x="299.1" y="499.2"/>
<use href="#f" x="318.2" y="499.2"/>
<use href="#f" x="342.8" y="499.2"/>
<use href="#f" x="350.7" y="499.2"/>
<use href="#g" x="368.9" y="498.5" width="12.6" height="12.6"/>
<use href="#g" x="371.6" y="498.5" width="12.6" height="12.6"/>
<use href="#f" x="375.5" y="499.2"/>
<use href="#f" x="381.0" y="499.2"/>
<use href="#f" x="389.4" y="499.2"/>
<use href="#f" x="397.4" y="499.2"/>
<use href="#g" x="409.6" y="498.5" width="12.6" height="12.6"/>
<use href="#f" x="427.2" y="499.2"/>
<use href="#f" x="441.1" y="499.2"/>
<use href="#f" x="465.4" y="499.2"/>
<use href="#f" x="492.5" y="499.2"/>
<use href="#f" x="508.9" y="499.2"/>
<use href="#g" x="510.4" y="498.5" width="12.6" height="12.6"/>
<use href="#f" x="533.4" y="499.2"/>
<use href="#f" x="544.5" y="499.2"/>
<use href="#f" x="547.0" y="499.2"/>
<use href="#f" x="552.8" y="499.2"/>
<use href="#f" x="579.8" y="499.2"/>
<use href="#f" x="582.6" y="499.2"/>
<use href="#f" x="596.1" y="499.2"/>
<use href="#f" x="604.4" y="499.2"/>
<use href="#f" x="610.0" y="499.2"/>
<use href="#f" x="618.1" y="499.2"/>
<use href="#f" x="629.0" y="499.2"/>
<use href="#f" x="640.0" y="499.2"/>
<use href="#f" x="645.4" y="499.2"/>
<use href="#f" x="655.9" y="499.2"/>
<use href="#g" x="659.9" y="498.5" width="12.6" height="12.6"/>
<use href="#f" x="667.3" y="499.2"/>
<use href="#g" x="678.8" y="498.5" width="12.6" height="12.6"/>
<use href="#f" x="683.8" y="499.2"/>
<use href="#f" x="699.6" y="499.2"/>
<use href="#f" x="713.3" y="499.2"/>
<use href="#f" x="734.9" y="499.2"/>
<use href="#f" x="756.8" y="499.2"/>
<use href="#f" x="773.1" y="499.2"/>
<use href="#f" x="789.5" y="499.2"/>
<use href="#f" x="797.8" y="499.2"/>
<use href="#g" x="812.7" y="498.5" width="12.6" height="12.6"/>
<use href="#f" x="824.9" y="499.2"/>
<use href="#g" x="825.9" y="498.5" width="12.6" height="12.6"/>
<use href="#f" x="833.3" y="499.2"/>
<use href="#f" x="846.7" y="499.2"/>
<use href="#f" x="862.8" y="499.2"/>
<use href="#g" x="864.5" y="498.5" width="12.6" height="12.6"/>
</svg>
<div class="t h" style="left:21.5px;top:23.56px;letter-spacing:0.2px;">Organic Traffic</div>
<div class="t hv" style="left:146.4px;top:23.13px;font-size:16.5px;letter-spacing:0.55px;">46/month</div>
<div class="cb" style="left:21.0px;top:64.0px;background:#2bb3ff"><svg width="16" height="16" viewBox="0 0 16 16"><path d="M4.5,8.0 L6.9,10.3 L11.3,5.9" fill="none" stroke="#fff" stroke-width="2" stroke-linecap="round" stroke-linejoin="round"/></svg></div>
<div class="t lg" style="left:41.3px;top:65.63px;font-size:14.5px;letter-spacing:0.24px;">Organic Traffic</div>
<div class="cb" style="left:155.0px;top:64.0px;background:#ff8e43"><svg width="16" height="16" viewBox="0 0 16 16"><path d="M4.5,8.0 L6.9,10.3 L11.3,5.9" fill="none" stroke="#fff" stroke-width="2" stroke-linecap="round" stroke-linejoin="round"/></svg></div>
<div class="t lg" style="left:175.0px;top:65.63px;font-size:14.5px;letter-spacing:0.24px;">Paid Traffic</div>
<div style="position:absolute;left:267px;top:63px;width:1px;height:20px;background:#c4c7cf"></div>
<svg style="position:absolute;left:283px;top:63px" width="20" height="20" viewBox="0 0 20 20"><path d="M2.8,2.9 H15.2 V12.6 H6.2 L2.8,15.8 Z" fill="none" stroke="#191b23" stroke-width="1.75" stroke-linejoin="miter"/></svg>
<div class="t lg" style="left:304.0px;top:64.65px;letter-spacing:0.3px;">Notes</div>
<svg style="position:absolute;left:348px;top:66px" width="14" height="14" viewBox="0 0 14 14"><path d="M3,5.6 L7,9.6 L11,5.6" fill="none" stroke="#191b23" stroke-width="1.9" stroke-linecap="round" stroke-linejoin="round"/></svg>
<div class="t ax" style="left:1031.5px;top:103.94px;">50</div>
<div class="t ax" style="left:1031.5px;top:132.24px;">38</div>
<div class="t ax" style="left:1031.5px;top:162.64px;">25</div>
<div class="t ax" style="left:1031.5px;top:190.84px;">13</div>
<div class="t ax" style="left:1031.5px;top:220.74px;">0</div>
<div class="t xl" style="left:51.7px;top:243.94px;">Nov 1</div>
<div class="t xl" style="left:51.7px;top:520.94px;">Nov 1</div>
<div class="t xl" style="left:218.0px;top:243.94px;">Jan 1</div>
<div class="t xl" style="left:218.0px;top:520.94px;">Jan 1</div>
<div class="t xl" style="left:381.0px;top:243.94px;">Mar 1</div>
<div class="t xl" style="left:381.0px;top:520.94px;">Mar 1</div>
<div class="t xl" style="left:547.0px;top:243.94px;">May 1</div>
<div class="t xl" style="left:547.0px;top:520.94px;">May 1</div>
<div class="t xl" style="left:714.0px;top:243.94px;">Jul 1</div>
<div class="t xl" style="left:714.0px;top:520.94px;">Jul 1</div>
<div class="t xl" style="left:882.0px;top:243.94px;">Sep 1</div>
<div class="t xl" style="left:882.0px;top:520.94px;">Sep 1</div>
<div class="t h" style="left:21.5px;top:301.06px;letter-spacing:0.07px;">Organic Keywords</div>
<div class="t hv" style="left:173.4px;top:299.63px;font-size:16.5px;letter-spacing:1.35px;">252</div>
<div class="cb" style="left:21.0px;top:341.0px;background:#fdc23c"><svg width="16" height="16" viewBox="0 0 16 16"><path d="M4.5,8.0 L6.9,10.3 L11.3,5.9" fill="none" stroke="#fff" stroke-width="2" stroke-linecap="round" stroke-linejoin="round"/></svg></div>
<div class="t lg" style="left:42.0px;top:342.95px;letter-spacing:0.4px;">Top 3</div>
<div class="cb" style="left:95.0px;top:341.0px;background:#006dca"><svg width="16" height="16" viewBox="0 0 16 16"><path d="M4.5,8.0 L6.9,10.3 L11.3,5.9" fill="none" stroke="#fff" stroke-width="2" stroke-linecap="round" stroke-linejoin="round"/></svg></div>
<div class="t lg" style="left:115.0px;top:342.95px;letter-spacing:0.2px;">4-10</div>
<div class="cb" style="left:161.0px;top:341.0px;background:#008ff8"><svg width="16" height="16" viewBox="0 0 16 16"><path d="M4.5,8.0 L6.9,10.3 L11.3,5.9" fill="none" stroke="#fff" stroke-width="2" stroke-linecap="round" stroke-linejoin="round"/></svg></div>
<div class="t lg" style="left:180.6px;top:342.95px;">11-20</div>
<div class="cb" style="left:231.0px;top:341.0px;background:#2bb3ff"><svg width="16" height="16" viewBox="0 0 16 16"><path d="M4.5,8.0 L6.9,10.3 L11.3,5.9" fill="none" stroke="#fff" stroke-width="2" stroke-linecap="round" stroke-linejoin="round"/></svg></div>
<div class="t lg" style="left:251.4px;top:342.95px;letter-spacing:0.3px;">21-50</div>
<div class="cb" style="left:305.0px;top:341.0px;background:#8ecdff"><svg width="16" height="16" viewBox="0 0 16 16"><path d="M4.5,8.0 L6.9,10.3 L11.3,5.9" fill="none" stroke="#fff" stroke-width="2" stroke-linecap="round" stroke-linejoin="round"/></svg></div>
<div class="t lg" style="left:324.8px;top:342.95px;">51-100</div>
<div class="cb" style="left:385.0px;top:341.0px;background:#59b330"><svg width="16" height="16" viewBox="0 0 16 16"><path d="M4.5,8.0 L6.9,10.3 L11.3,5.9" fill="none" stroke="#fff" stroke-width="2" stroke-linecap="round" stroke-linejoin="round"/></svg></div>
<div class="t lg" style="left:405.2px;top:342.95px;">SERP Features</div>
<div class="t ax" style="left:1031.5px;top:380.94px;letter-spacing:0.6px;">269</div>
<div class="t ax" style="left:1031.5px;top:410.14px;letter-spacing:0.6px;">202</div>
<div class="t ax" style="left:1031.5px;top:439.44px;letter-spacing:0.6px;">135</div>
<div class="t ax" style="left:1031.5px;top:468.64px;">67</div>
<div class="t ax" style="left:1031.5px;top:497.84px;">0</div>
</body></html>
